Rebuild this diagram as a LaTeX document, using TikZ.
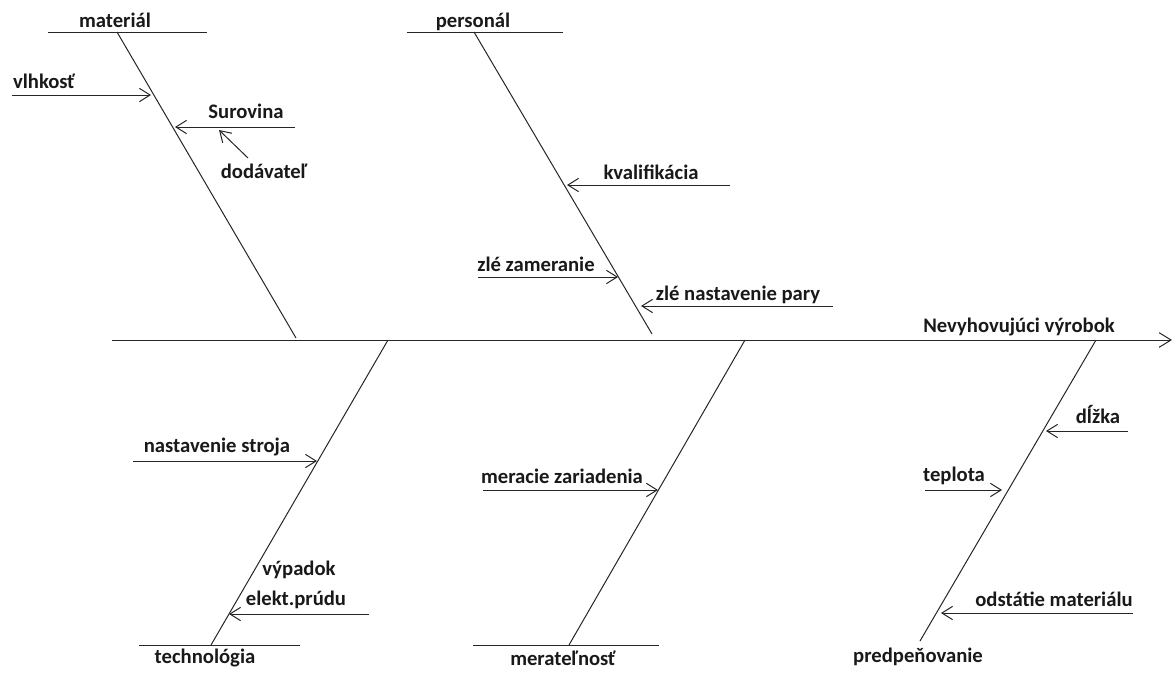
\documentclass[tikz,border=0pt]{standalone}
\usepackage{fontspec}
\setmainfont{Carlito}
\usetikzlibrary{arrows.meta}
\begin{document}
\begin{tikzpicture}[x=0.75pt,y=-0.75pt,
  line/.style={line width=0.75pt, draw=black!85},
  cause/.style={line, -{Straight Barb[length=8pt,width=10pt,line width=0.75pt]}},
  lbl/.style={anchor=base, inner sep=0pt, font=\fontsize{15.5}{18}\selectfont\bfseries, text=black!90}]
\useasboundingbox (0,0) rectangle (1176,675);

% spine
\coordinate (spL) at (112,340);
\coordinate (spR) at (1172,340);
\draw[line, -{Straight Barb[length=9pt,width=11pt,line width=0.75pt]}] (spL) -- (spR);
\node[lbl] (effect) at (1019,332) {Nevyhovujúci výrobok};

% material
\coordinate (matA) at (48,32);  \coordinate (matB) at (207,32);
\coordinate (matT) at (117,32); \coordinate (matE) at (296,338);
\draw[line] (matA) -- (matB);
\draw[line] (matT) -- (matE);
\node[lbl] (mat) at (115,27) {materiál};
\coordinate (vlS) at (12,95);   \coordinate (vlE) at (151,95);
\draw[cause] (vlS) -- (vlE);
\node[lbl] (vl) at (44,88) {vlhkosť};
\coordinate (suS) at (295,127); \coordinate (suE) at (175,127);
\draw[cause] (suS) -- (suE);
\node[lbl] (su) at (246,118) {Surovina};
\coordinate (doS) at (248,158); \coordinate (doE) at (219,130);
\draw[cause] (doS) -- (doE);
\node[lbl] (do) at (264,178) {dodávateľ};

% personal
\coordinate (peA) at (407,32);  \coordinate (peB) at (563,32);
\coordinate (peT) at (474,32);  \coordinate (peE) at (652,334);
\draw[line] (peA) -- (peB);
\draw[line] (peT) -- (peE);
\node[lbl] (pe) at (473,27) {personál};
\coordinate (kvS) at (730,185); \coordinate (kvE) at (567,185);
\draw[cause] (kvS) -- (kvE);
\node[lbl] (kv) at (651,179) {kvalifikácia};
\coordinate (zzS) at (478,277); \coordinate (zzE) at (618,277);
\draw[cause] (zzS) -- (zzE);
\node[lbl] (zz) at (536,271) {zlé zameranie};
\coordinate (znS) at (833,306); \coordinate (znE) at (641,306);
\draw[cause] (znS) -- (znE);
\node[lbl] (zn) at (738,300) {zlé nastavenie pary};

% technologia
\coordinate (teA) at (139,645); \coordinate (teB) at (300,645);
\coordinate (teT) at (388,340); \coordinate (teE) at (211,645);
\draw[line] (teA) -- (teB);
\draw[line] (teT) -- (teE);
\node[lbl] (te) at (205,663) {technológia};
\coordinate (nsS) at (133,461); \coordinate (nsE) at (317,461);
\draw[cause] (nsS) -- (nsE);
\node[lbl] (ns) at (217,452) {nastavenie stroja};
\coordinate (vyS) at (369,614); \coordinate (vyE) at (229,614);
\draw[cause] (vyS) -- (vyE);
\node[lbl] (vy1) at (299,575) {výpadok};
\node[lbl] (vy2) at (296,605) {elekt.prúdu};

% meratelnost
\coordinate (meA) at (473,645); \coordinate (meB) at (659,645);
\coordinate (meT) at (745,340); \coordinate (meE) at (569,645);
\draw[line] (meA) -- (meB);
\draw[line] (meT) -- (meE);
\node[lbl] (me) at (563,665) {merateľnosť};
\coordinate (mzS) at (483,490); \coordinate (mzE) at (658,490);
\draw[cause] (mzS) -- (mzE);
\node[lbl] (mz) at (562,483) {meracie zariadenia};

% predpenovanie
\coordinate (prT) at (1096,340); \coordinate (prE) at (920,641);
\draw[line] (prT) -- (prE);
\node[lbl] (pr) at (918,662) {predpeňovanie};
\coordinate (dlS) at (1128,431); \coordinate (dlE) at (1046,431);
\draw[cause] (dlS) -- (dlE);
\node[lbl] (dl) at (1098,423) {dĺžka};
\coordinate (tpS) at (925,490); \coordinate (tpE) at (1002,490);
\draw[cause] (tpS) -- (tpE);
\node[lbl] (tp) at (954,481) {teplota};
\coordinate (odS) at (1133,613); \coordinate (odE) at (941,613);
\draw[cause] (odS) -- (odE);
\node[lbl] (od) at (1054,606) {odstátie materiálu};
\end{tikzpicture}
\end{document}
